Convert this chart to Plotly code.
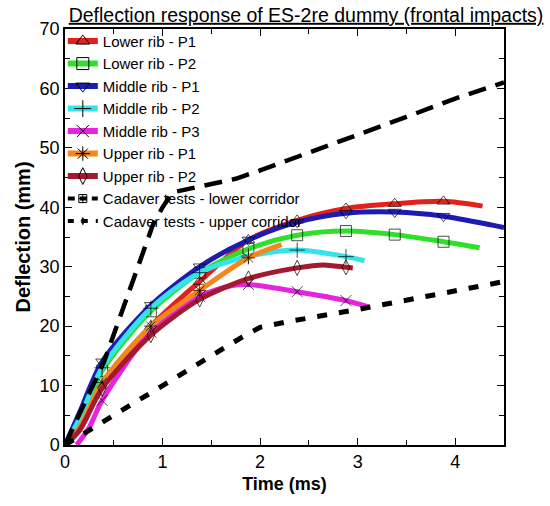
import plotly.graph_objects as go

# ---- data ----
lr_p1_x = [0, 0.15, 0.38, 0.88, 1.38, 1.88, 2.38, 2.88, 3.38, 3.88, 4.28]
lr_p1_y = [0, 2.5, 10, 20, 27.5, 34.5, 37.8, 39.8, 40.6, 41.0, 40.2]

lr_p2_x = [0, 0.15, 0.38, 0.88, 1.38, 1.88, 2.38, 2.88, 3.38, 3.88, 4.25]
lr_p2_y = [0, 4, 12.5, 22.5, 29, 33, 35.3, 36, 35.4, 34.2, 33.2]

mr_p1_x = [0, 0.15, 0.38, 0.88, 1.38, 1.88, 2.38, 2.88, 3.38, 3.88, 4.38, 4.5]
mr_p1_y = [0, 5.5, 14, 23.5, 30, 34.5, 37.5, 39, 39.2, 38.5, 37, 36.6]

mr_p2_x = [0, 0.15, 0.38, 0.88, 1.38, 1.88, 2.38, 2.88, 3.07]
mr_p2_y = [0, 4.5, 13, 23, 29, 31.8, 32.8, 31.7, 31]

mr_p3_x = [0.12, 0.25, 0.38, 0.88, 1.38, 1.7, 1.88, 2.38, 2.88, 3.12]
mr_p3_y = [0, 3, 7.5, 19, 25, 26.8, 27, 25.8, 24.3, 23.2]

ur_p1_x = [0, 0.15, 0.38, 0.88, 1.38, 1.88, 2.22]
ur_p1_y = [0, 3, 10.5, 20, 26, 31.5, 33.7]

ur_p2_x = [0, 0.15, 0.38, 0.88, 1.38, 1.88, 2.38, 2.65, 2.88, 2.95]
ur_p2_y = [0, 2.5, 9.5, 18.5, 24.5, 28, 29.8, 30.3, 29.9, 29.8]

low_cor_x = [0, 0.5, 1.0, 1.5, 1.82, 2.0, 2.3, 3.0, 3.5, 4.0, 4.5]
low_cor_y = [0, 5, 10.2, 15, 18.2, 19.8, 20.8, 22.8, 24.4, 26, 27.5]

up_cor_x = [0, 0.4, 0.9, 1.0, 1.1, 1.75, 2.0, 2.5, 3.0, 3.5, 4.0, 4.5]
up_cor_y = [0, 14, 37, 40, 42.5, 44.8, 46.2, 49.2, 52, 55.2, 58.3, 61]

marker_times = [0.38, 0.88, 1.38, 1.88, 2.38, 2.88, 3.38, 3.88]

names = ["Lower rib - P1", "Lower rib - P2", "Middle rib - P1", "Middle rib - P2",
         "Middle rib - P3", "Upper rib - P1", "Upper rib - P2",
         "Cadaver tests - lower corridor", "Cadaver tests - upper corridor"]

FONT = "Liberation Sans, Arial, sans-serif"

fig = go.Figure()

series = [
    (lr_p1_x, lr_p1_y, "#e3201c", "triangle-up-open"),
    (lr_p2_x, lr_p2_y, "#2ee02a", "square-open"),
    (mr_p1_x, mr_p1_y, "#1c1cb0", "triangle-down-open"),
    (mr_p2_x, mr_p2_y, "#35e3ea", "cross-thin-open"),
    (mr_p3_x, mr_p3_y, "#e524e0", "x-thin-open"),
    (ur_p1_x, ur_p1_y, "#f2871f", "asterisk-open"),
    (ur_p2_x, ur_p2_y, "#a3192f", "diamond-tall-open"),
]

for i, (xs, ys, col, sym) in enumerate(series):
    sizes = [11 if round(x, 2) in marker_times else 0 for x in xs]
    fig.add_trace(go.Scatter(
        x=xs, y=ys, mode="lines+markers", showlegend=False,
        line=dict(color=col, width=5, shape="spline", smoothing=0.8),
        marker=dict(symbol=sym, size=sizes, color="black",
                    line=dict(color="black", width=1)),
    ))

# corridors
fig.add_trace(go.Scatter(
    x=low_cor_x, y=low_cor_y, mode="lines", showlegend=False,
    line=dict(color="black", width=5, dash="10px,12px"),
))
fig.add_trace(go.Scatter(
    x=up_cor_x, y=up_cor_y, mode="lines", showlegend=False,
    line=dict(color="black", width=4.5, dash="18px,10px"),
))

# legend entries
for i, (xs, ys, col, sym) in enumerate(series):
    fig.add_trace(go.Scatter(
        x=[None], y=[None], mode="lines+markers", name=names[i],
        line=dict(color=col, width=6),
        marker=dict(symbol=sym, size=12, color="black",
                    line=dict(color="black", width=1)),
    ))
fig.add_trace(go.Scatter(
    x=[None], y=[None], mode="lines+markers", name=names[7],
    line=dict(color="black", width=4, dash="7px,5px"),
    marker=dict(symbol="square-cross-open", size=8, color="black",
                line=dict(color="black", width=1)),
))
fig.add_trace(go.Scatter(
    x=[None], y=[None], mode="lines+markers", name=names[8],
    line=dict(color="black", width=4, dash="6px,8px"),
    marker=dict(symbol="diamond-tall-open", size=5, color="black",
                line=dict(color="black", width=1)),
))

axis_common = dict(
    showline=True, linecolor="black", linewidth=1.5, mirror="ticks",
    ticks="inside", ticklen=7, tickwidth=1, tickcolor="black",
    showgrid=False, zeroline=False,
    tickfont=dict(family=FONT, size=18, color="black"),
)

fig.update_xaxes(
    range=[0, 4.5], dtick=1, tick0=0,
    minor=dict(dtick=0.5, ticks="inside", ticklen=5, tickcolor="black"),
    title=dict(text="<b>Time (ms)</b>", font=dict(family=FONT, size=18, color="black"), standoff=6),
    **axis_common,
)
fig.update_yaxes(
    range=[0, 70], dtick=10, tick0=0,
    minor=dict(dtick=5, ticks="inside", ticklen=5, tickcolor="black"),
    title=dict(text="<b>Deflection (mm)</b>", font=dict(family=FONT, size=20, color="black"), standoff=4),
    **axis_common,
)

fig.update_layout(
    width=550, height=506,
    margin=dict(l=65, r=46, t=29, b=61),
    paper_bgcolor="white", plot_bgcolor="white",
    title=dict(text="<u>Deflection response of ES-2re dummy (frontal impacts)</u>",
               x=306 / 550, xanchor="center", xref="container",
               y=1 - 15 / 506, yanchor="middle", yref="container",
               font=dict(family=FONT, size=19.5, color="black")),
    legend=dict(x=-0.005, y=1.01, xanchor="left", yanchor="top",
                bgcolor="rgba(0,0,0,0)", borderwidth=0,
                font=dict(family=FONT, size=15, color="black"),
                itemwidth=30, tracegroupgap=0),
    showlegend=True,
)

fig.write_html("out.html")
